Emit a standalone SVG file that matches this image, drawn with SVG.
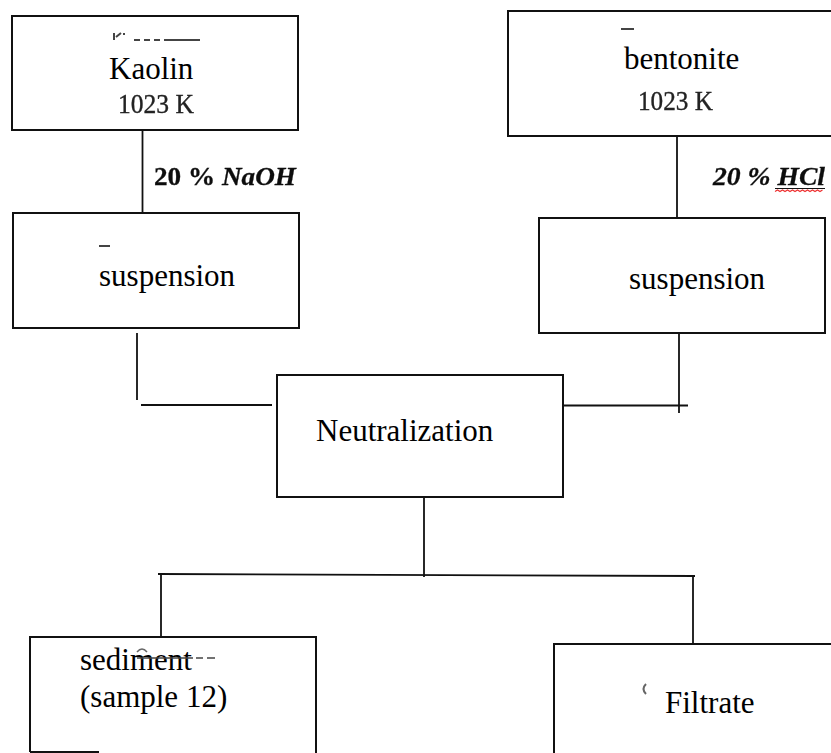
<svg xmlns="http://www.w3.org/2000/svg" width="831" height="753" viewBox="0 0 831 753">
  <style>
    .box { fill: none; stroke: #111; stroke-width: 2; }
    .conn { fill: none; stroke: #111; stroke-width: 1.8; }
    .lbl { font-family: "Liberation Serif", "Times New Roman", serif; font-size: 31px; fill: #000; }
    .temp { font-family: "Liberation Serif", "Times New Roman", serif; font-size: 27px; fill: #222; stroke: #222; stroke-width: 0.35; filter: url(#soft); }
    .reag { font-family: "Liberation Serif", "Times New Roman", serif; font-size: 26px; font-weight: bold; fill: #111; stroke: #111; stroke-width: 0.3; filter: url(#soft); }
    .mark { fill: none; stroke: #444; stroke-width: 2; }
  </style>
  <defs>
    <filter id="soft" x="-5%" y="-20%" width="110%" height="140%">
      <feGaussianBlur stdDeviation="0.45"/>
    </filter>
  </defs>
  <rect width="831" height="753" fill="#fff"/>

  <!-- connectors -->
  <g id="connectors">
    <line class="conn" x1="142.5" y1="130" x2="142.5" y2="213"/>
    <line class="conn" x1="677" y1="136" x2="677" y2="218"/>
    <line class="conn" x1="137" y1="333" x2="137" y2="400"/>
    <line class="conn" x1="141" y1="405" x2="272" y2="405"/>
    <line class="conn" x1="679" y1="333" x2="679" y2="413"/>
    <line class="conn" x1="563" y1="405.5" x2="688" y2="405.5"/>
    <line class="conn" x1="424" y1="497" x2="424" y2="577"/>
    <line class="conn" x1="158" y1="574" x2="695" y2="576"/>
    <line class="conn" x1="161" y1="575" x2="161" y2="637"/>
    <line class="conn" x1="693" y1="576" x2="693" y2="644"/>
  </g>

  <!-- reagent labels on the feed lines -->
  <g id="reagents">
    <text class="reag" x="154" y="185" textLength="142" lengthAdjust="spacingAndGlyphs">20 % <tspan font-style="italic">NaOH</tspan></text>
    <text class="reag" x="713" y="185" font-style="italic" textLength="112" lengthAdjust="spacingAndGlyphs">20 % HCl</text>
    <line x1="775" y1="188.5" x2="825" y2="188.5" stroke="#111" stroke-width="1.2"/>
    <path d="M775 191.5 l2.5 -1.5 l2.5 1.5 l2.5 -1.5 l2.5 1.5 l2.5 -1.5 l2.5 1.5 l2.5 -1.5 l2.5 1.5 l2.5 -1.5 l2.5 1.5 l2.5 -1.5 l2.5 1.5 l2.5 -1.5 l2.5 1.5 l2.5 -1.5 l2.5 1.5 l2.5 -1.5 l2.5 1.5 l2.5 -1.5" fill="none" stroke="#e33" stroke-width="1.2"/>
  </g>

  <g id="kaolin">
    <rect class="box" x="12" y="16" width="286" height="114"/>
    <path class="mark" d="M114 33 v7 M116 37 l5 -4 M124 33 v2 M134 40 h6 M144 40 h6 M154 40 h6 M164 40 h36" stroke-width="1.6"/>
    <text class="lbl" x="109" y="79">Kaolin</text>
    <text class="temp" x="118" y="113" textLength="76" lengthAdjust="spacingAndGlyphs">1023 K</text>
  </g>

  <g id="bentonite">
    <rect class="box" x="508" y="11" width="340" height="125"/>
    <line class="mark" x1="621" y1="29" x2="634" y2="29"/>
    <text class="lbl" x="624" y="69">bentonite</text>
    <text class="temp" x="638" y="110" textLength="75" lengthAdjust="spacingAndGlyphs">1023 K</text>
  </g>

  <g id="suspension-left">
    <rect class="box" x="13" y="213" width="286" height="115"/>
    <line class="mark" x1="99" y1="246" x2="110" y2="246"/>
    <text class="lbl" x="99" y="286">suspension</text>
  </g>

  <g id="suspension-right">
    <rect class="box" x="539" y="218" width="286" height="115"/>
    <text class="lbl" x="629" y="289">suspension</text>
  </g>

  <g id="neutralization">
    <rect class="box" x="277" y="375" width="286" height="122"/>
    <text class="lbl" x="316" y="441">Neutralization</text>
  </g>

  <g id="sediment">
    <path class="box" d="M30 752 V637 H316 V753 M30 752 H99"/>
    <text class="lbl" x="80" y="670">sediment</text>
    <path d="M137 652 q5 -6 10 0" fill="none" stroke="#666" stroke-width="1.5"/>
    <path d="M137 658 H193 M196 658 H203 M207 658 H215" fill="none" stroke="#444" stroke-width="1.6"/>
    <text class="lbl" x="80" y="707">(sample 12)</text>
  </g>

  <g id="filtrate">
    <path class="box" d="M554 753 V644 H831"/>
    <path d="M646 684 q-5 5 0 10" fill="none" stroke="#666" stroke-width="2"/>
    <text class="lbl" x="665" y="713">Filtrate</text>
  </g>
</svg>
